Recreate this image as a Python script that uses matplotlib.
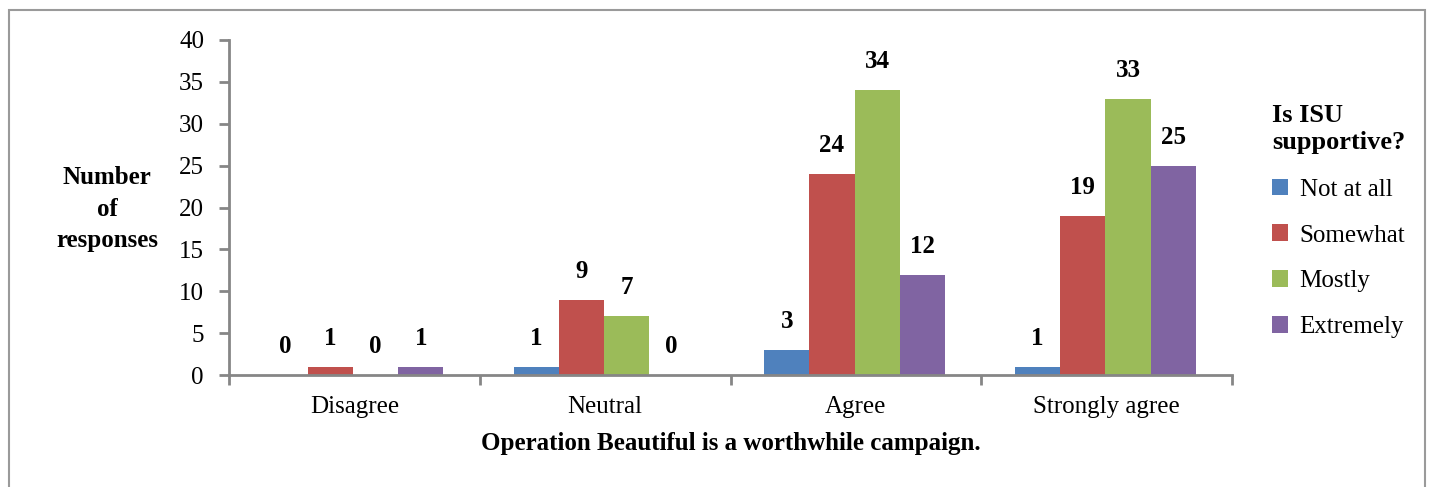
import matplotlib
matplotlib.use("Agg")
import matplotlib.pyplot as plt
from matplotlib.patches import Rectangle, Patch
import numpy as np

categories = ["Disagree", "Neutral", "Agree", "Strongly agree"]
series_names = ["Not at all", "Somewhat", "Mostly", "Extremely"]
not_at_all = [0, 1, 3, 1]
somewhat = [1, 9, 24, 19]
mostly = [0, 7, 34, 33]
extremely = [1, 0, 12, 25]
colors = ["#4F81BD", "#C0504D", "#9BBB59", "#8064A2"]
yticks = [0, 5, 10, 15, 20, 25, 30, 35, 40]

plt.rcParams['font.family'] = ['Liberation Serif', 'DejaVu Serif']
FS = 18

fig = plt.figure(figsize=(14.32, 4.87), dpi=100)
ax = fig.add_axes([229/1432, 1-375/487, (1232-229)/1432, (375-40)/487])

series = [not_at_all, somewhat, mostly, extremely]
x = np.arange(len(categories))
bw = 0.18
offsets = [-1.5*bw, -0.5*bw, 0.5*bw, 1.5*bw]
for vals, off, c, name in zip(series, offsets, colors, series_names):
    xs = x + off - 0.005
    ax.bar(xs, vals, width=bw, color=c, label=name)
    for xi, v in zip(xs, vals):
        ax.annotate(str(v), (xi, v), xytext=(0, 20.5), textcoords='offset points',
                    ha='center', va='center', fontsize=FS, fontweight='bold')

ax.set_xlim(-0.5, 3.5)
ax.set_ylim(0, 40)
ax.set_yticks(yticks)
ax.set_xticks(np.arange(-0.5, 4, 1))
ax.set_xticklabels([])
ax.set_xticks(x, minor=True)
ax.set_xticklabels(categories, minor=True, fontsize=FS)
ax.tick_params(axis='x', which='minor', length=0, pad=15)
ax.tick_params(axis='x', which='major', length=7, width=2, color='#868686', direction='out')
ax.tick_params(axis='y', length=7, width=2, color='#868686', labelsize=FS, pad=11)
for s in ['top', 'right']:
    ax.spines[s].set_visible(False)
for s in ['left', 'bottom']:
    ax.spines[s].set_color('#868686')
    ax.spines[s].set_linewidth(2)

ax.set_xlabel("Operation Beautiful is a worthwhile campaign.", fontsize=FS,
              fontweight='bold', labelpad=10)
fig.text(107/1432, 1-209/487, "Number\nof\nresponses", ha='center', va='center',
         fontsize=FS, fontweight='bold', linespacing=1.45)

handles = [Patch(facecolor=c, label=n) for c, n in zip(colors, series_names)]
leg = fig.legend(handles=handles, loc='upper left', bbox_to_anchor=(1262/1432, 1-94/487),
                 frameon=False, fontsize=FS, title="Is ISU\nsupportive?",
                 title_fontproperties={'weight': 'bold', 'size': 19},
                 handlelength=0.65, handleheight=0.65, handletextpad=0.45,
                 labelspacing=0.95, borderaxespad=0)
leg._legend_box.align = "center"
leg._legend_box.sep = 18

fig.add_artist(Rectangle((9/1432, -0.05), (1425-9)/1432, 1.05 - 10/487,
                         transform=fig.transFigure, fill=False,
                         edgecolor='#9a9a9a', linewidth=1.5))

fig.savefig("out.png", dpi=100)
